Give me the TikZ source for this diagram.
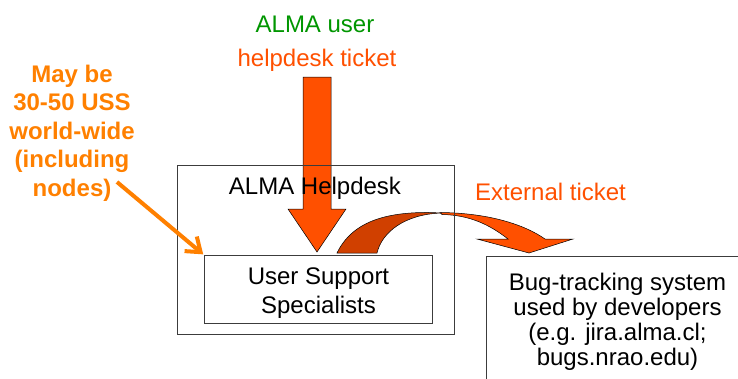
\documentclass[tikz,border=0pt]{standalone}
\usepackage{fontspec}
\setmainfont{Liberation Sans}
\usetikzlibrary{arrows.meta}
\definecolor{tkt}{RGB}{255,80,0}
\definecolor{tktdark}{RGB}{208,64,0}
\definecolor{notecol}{RGB}{255,128,0}
\definecolor{almagreen}{RGB}{0,150,0}
\definecolor{edgecol}{RGB}{60,60,60}
\begin{document}
\begin{tikzpicture}[x=1pt,y=-1pt,
  lbl/.style={font=\fontsize{24}{24}\selectfont, inner sep=0pt},
  box/.style={draw=edgecol, line width=1pt, inner sep=0pt, align=center},
  blockarrow/.style={fill=tkt, draw=black, line width=0.5pt, line join=miter},
  darkarrow/.style={fill=tktdark, draw=black, line width=0.5pt},
  notearrow/.style={draw=notecol, line width=4pt, -{Straight Barb[length=13pt,width=19pt]}, shorten >=1pt},
]
\useasboundingbox (0,0) rectangle (738,378);
\fill[white] (0,0) rectangle (738,378);

% big incoming block arrow
\draw[blockarrow] (303,77) -- (331,77) -- (331,209) -- (346,209) -- (317,252) -- (288,209) -- (303,209) -- cycle;

% curved arrow: descending bright part
\draw[blockarrow] (440,212.5) .. controls (490,213) and (525,225) .. (545,239)
  -- (573,239) -- (529,253) -- (477,239) -- (508,239)
  .. controls (490,225) and (470,215) .. (442,214.5) -- cycle;
% curved arrow: rising dark part
\draw[darkarrow] (337,253) .. controls (352,222) and (385,212) .. (430,212.5)
  -- (442,213) .. controls (405,214) and (382,232) .. (377,253) -- cycle;

% boxes
\node[box, minimum width=277pt, minimum height=169pt, anchor=north west] (desk) at (177,165) {};
\node[lbl, anchor=base] (desklbl) at (315,194) {ALMA Helpdesk};
\node[box, minimum width=228pt, minimum height=68pt, anchor=north west,
  font=\fontsize{24}{29}\selectfont] (uss) at (204,255) {\rule{0pt}{23.5pt}User Support\\Specialists};
\node[box, minimum width=262pt, minimum height=130pt, anchor=north west,
  font=\fontsize{24}{25}\selectfont] (bug) at (486,256)
  {Bug-tracking system\\used by developers\\(e.g. jira.alma.cl;\\bugs.nrao.edu)};

% texts
\node[lbl, text=almagreen, anchor=base] (user) at (315,32) {ALMA user};
\node[lbl, text=tkt, anchor=base] (ticket) at (317,66) {helpdesk ticket};
\node[lbl, text=tkt, anchor=base west] (ext) at (475,200) {External ticket};
\node[inner sep=0pt, align=center, text=notecol, font=\fontsize{24}{28.5}\selectfont\bfseries] (note) at (72,133)
  {May be\\30-50 USS\\world-wide\\(including\\nodes)};

% note arrow
\coordinate (notestart) at (117,182);
\draw[notearrow] (notestart) -- (uss.north west);
\end{tikzpicture}
\end{document}
